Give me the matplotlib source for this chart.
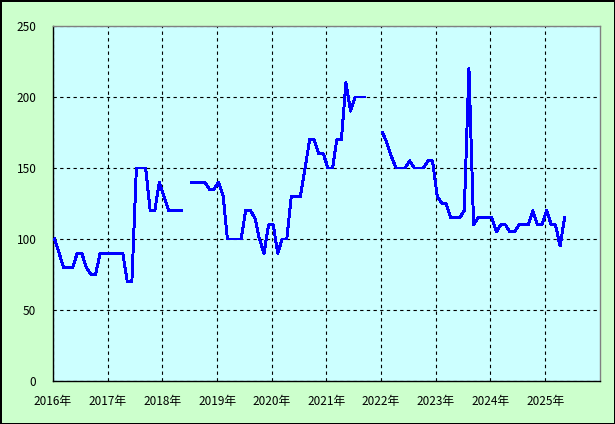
import numpy as np
import pandas as pd
from matplotlib import pyplot as plt
from matplotlib import dates as mdates

plt.rcParams['font.family'] = ['Noto Sans CJK JP', 'DejaVu Sans']

# monthly values from Jan 2016 (None = no data)
values = [100, 90, 80, 80, 80, 90, 90, 80, 75, 75, 90, 90,
          90, 90, 90, 90, 70, 70, 150, 150, 150, 120, 120, 140,
          130, 120, 120, 120, 120, None, 140, 140, 140, 140, 135, 135,
          140, 130, 100, 100, 100, 100, 120, 120, 115, 100, 90, 110,
          110, 90, 100, 100, 130, 130, 130, 150, 170, 170, 160, 160,
          150, 150, 170, 170, 210, 190, 200, 200, 200, None, None, None,
          175, 167, 158, 150, 150, 150, 155, 150, 150, 150, 155, 155,
          130, 125, 125, 115, 115, 115, 120, 220, 110, 115, 115, 115,
          115, 105, 110, 110, 105, 105, 110, 110, 110, 120, 110, 110,
          120, 110, 110, 95, 115]
dates = pd.date_range('2016-01-01', periods=len(values), freq='MS') + pd.Timedelta(days=10)
series = np.array([np.nan if v is None else v for v in values], dtype=float)

years = list(range(2016, 2026))
yticks = [0, 50, 100, 150, 200, 250]

fig = plt.figure(figsize=(6.15, 4.24), dpi=100, facecolor='#CCFFCC',
                 edgecolor='black', linewidth=1)
ax = fig.add_axes([0.0862, 0.1014, 0.889, 0.8373])
ax.set_facecolor('#CCFFFF')

ax.plot(dates, series, color='#0000FF', linewidth=1.4, antialiased=False, zorder=3)

ax.set_xlim(pd.Timestamp('2016-01-01'), pd.Timestamp('2026-01-01'))
ax.set_ylim(0, 250)
ax.set_yticks(yticks)
ax.set_xticks([pd.Timestamp(f'{y}-01-01') for y in years])
ax.set_xticklabels([f'{y}年' for y in years])

ax.grid(True, color='black', linestyle=(0, (3, 3)), linewidth=0.8)
ax.tick_params(length=0, labelsize=8.5, colors='black')
ax.tick_params(axis='y', pad=12)
ax.tick_params(axis='x', pad=10)

for side in ['left', 'bottom']:
    ax.spines[side].set_color('black')
    ax.spines[side].set_linewidth(1)
for side in ['top', 'right']:
    ax.spines[side].set_color('#808080')
    ax.spines[side].set_linewidth(1)

fig.savefig('out.png', dpi=100, facecolor=fig.get_facecolor(), edgecolor='black')
